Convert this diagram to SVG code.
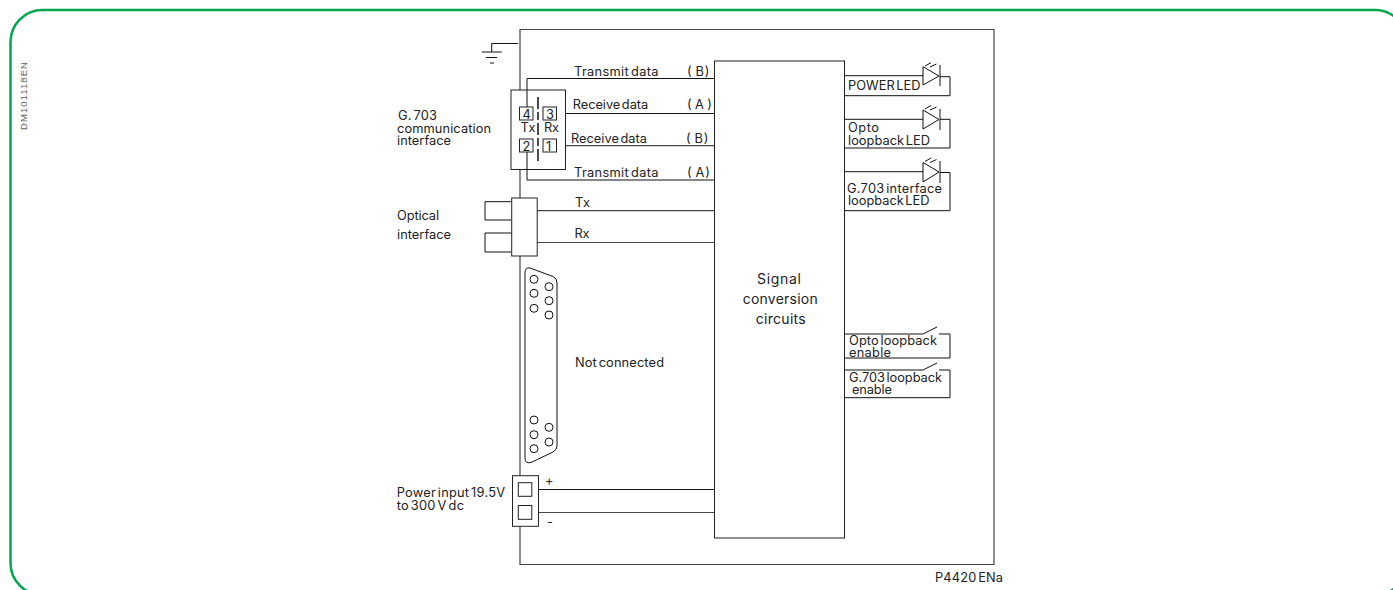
<svg xmlns="http://www.w3.org/2000/svg" width="1393" height="590" viewBox="0 0 1393 590">
<style>
.l{fill:none;stroke:#444;stroke-width:1.2}
.k{fill:none;stroke:#111;stroke-width:1}
.w{fill:#fff;stroke:#222;stroke-width:1}
text{font-family:"Inter","Liberation Sans",sans-serif;font-size:12.8px;fill:#222;word-spacing:-2px}
text.b{font-size:14px;word-spacing:0}
</style>
<rect width="1393" height="590" fill="#fff"/>
<rect id="frame" x="10.500" y="10" width="1396.500" height="585" rx="32" fill="none" stroke="#00a650" stroke-width="2.500"/>
<text id="docref" transform="translate(27 130) rotate(-90)" textLength="68" style="font-family:'Liberation Sans',sans-serif;font-size:9.500px;fill:#666;word-spacing:0">DM101118EN</text>
<g id="connectors">
<path class="l" d="M520 476V29.500H994V564.500H520V526M520 198V232M520 256V476"/>
<path class="k" d="M518 43.500H491.700V52"/>
<path class="k" d="M481.700 52H501.700M486 57.500H497M490 63H494"/>
<path class="k" d="M714 78.500H527V107M527 152V180H714"/>
<path class="k" d="M556 113.500H714"/>
<path class="l" d="M556 145.700H714"/>
<path class="l" d="M537 210.700H714M537 242.500H714"/>
<path class="k" d="M538 489.500H714"/>
<path class="l" d="M538 512.500H714"/>
<path class="k" d="M845 75.700H923M940 76.700H950V95.700H845"/>
<path class="k" d="M845 119.300H923M940 119.300H950V148H845"/>
<path class="k" d="M845 171.700H923M940 172.500H950V210.700H845"/>
<path class="k" d="M845 334H923M939 334H950V358H845"/>
<path class="k" d="M845 370H923M939 370H950V397.700H845"/>
</g>
<g id="signal-conversion"><rect class="w" x="714.500" y="61" width="130" height="477"/>
<text class="b" x="757" y="284" textLength="44">Signal</text><text class="b" x="742.700" y="304" textLength="75">conversion</text><text class="b" x="755.700" y="323.500" textLength="50">circuits</text></g>
<g id="g703"><rect class="w" x="511" y="90" width="54.500" height="79.500"/>
<path class="k" d="M527 90V107M527 152V169.500"/>
<path d="M538 97V162" fill="none" stroke="#111" stroke-width="1.500" stroke-dasharray="12 3 8 3"/>
<rect class="w" x="519.500" y="107" width="13.500" height="13"/><text x="522.500" y="118.500">4</text>
<rect class="w" x="543" y="107" width="13.500" height="13"/><text x="546" y="118.500">3</text>
<rect class="w" x="519.500" y="139" width="13.500" height="13"/><text x="522.500" y="150.500">2</text>
<rect class="w" x="543" y="139" width="13.500" height="13"/><text x="546" y="150.500">1</text>
<text x="520.500" y="132" textLength="15">Tx</text><text x="544" y="132" textLength="15">Rx</text>
<text x="398" y="120" textLength="39">G. 703</text><text x="397" y="132.700" textLength="94">communication</text><text x="397" y="144.500" textLength="54">interface</text></g>
<g id="optical"><path class="k" d="M511 201.700H485V220H511M511 233H485V252H511"/><rect class="w" x="511.700" y="198" width="25.500" height="58"/>
<text x="397" y="220" textLength="42">Optical</text><text x="397" y="239" textLength="54">interface</text><text x="575" y="206.700" textLength="15">Tx</text><text x="574.500" y="238" textLength="15">Rx</text></g>
<g id="sub-d"><path class="k" d="M530 268L553 276.500Q557 278 557 283V446Q557 450 553 452L531 462.500Q525 464 525 458V273Q525 267 530 268Z"/>
<g class="k"><circle cx="534" cy="279.300" r="4"/><circle cx="534" cy="293.300" r="4"/><circle cx="534" cy="308.300" r="4"/><circle cx="549" cy="286.700" r="4"/><circle cx="549" cy="300.700" r="4"/><circle cx="549" cy="315" r="4"/><circle cx="534" cy="420" r="4"/><circle cx="534" cy="434.700" r="4"/><circle cx="534" cy="448.700" r="4"/><circle cx="549" cy="427.300" r="4"/><circle cx="549" cy="442" r="4"/></g>
<text x="575" y="366.700" textLength="89">Not connected</text></g>
<g id="power"><rect class="w" x="512.500" y="475.700" width="26" height="50.600"/><rect class="w" x="518.300" y="482.700" width="13.500" height="13.600"/><rect class="w" x="518.300" y="505.500" width="13.500" height="13.800"/>
<text x="545" y="485">+</text><text x="547" y="526">-</text>
<text x="396.700" y="496.700" textLength="108.300">Power input 19.5V</text><text x="396.700" y="510" textLength="67.300">to 300 V dc</text></g>
<g id="labels"><text x="574" y="75.500" textLength="84.500">Transmit data</text><text x="687" y="76" textLength="22.500">( B)</text>
<text x="572.700" y="109.300" textLength="75.500">Receive data</text><text x="687" y="109.300" textLength="25">( A )</text>
<text x="571" y="142.700" textLength="76">Receive data</text><text x="686" y="142.700" textLength="22.500">( B)</text>
<text x="574" y="176.700" textLength="84.500">Transmit data</text><text x="687" y="176.700" textLength="23">( A)</text>
<text x="848" y="90" textLength="72.500">POWER LED</text><text x="848" y="132" textLength="31">Opto</text><text x="848" y="145" textLength="82">loopback LED</text>
<text x="847" y="193" textLength="95">G.703 interface</text><text x="848" y="204.500" textLength="81.500">loopback LED</text>
<text x="849" y="345" textLength="88">Opto loopback</text><text x="849" y="357" textLength="42">enable</text>
<text x="849" y="382" textLength="93">G.703 loopback</text><text x="852" y="394" textLength="40">enable</text>
<text x="935" y="581.700" textLength="68">P4420 ENa</text></g>
<g id="led-power"><path class="k" d="M923 66.700L939 76L923 85ZM940 65V86"/><path class="k" d="M925 66L931 62.700M930 67L936.500 64"/></g>
<g id="led-opto"><path class="k" d="M923 110L939 119.500L923 129ZM940 109V130"/><path class="k" d="M925 109L931 105.500M930 110L936.500 107"/></g>
<g id="led-g703"><path class="k" d="M923 162.500L939 172L923 182ZM940 161V183"/><path class="k" d="M925 161.500L931 158M930 162.500L936.500 159.500"/></g>
<g id="switches"><path class="k" d="M923 334L937 327M923 370L937 363"/></g>
</svg>
